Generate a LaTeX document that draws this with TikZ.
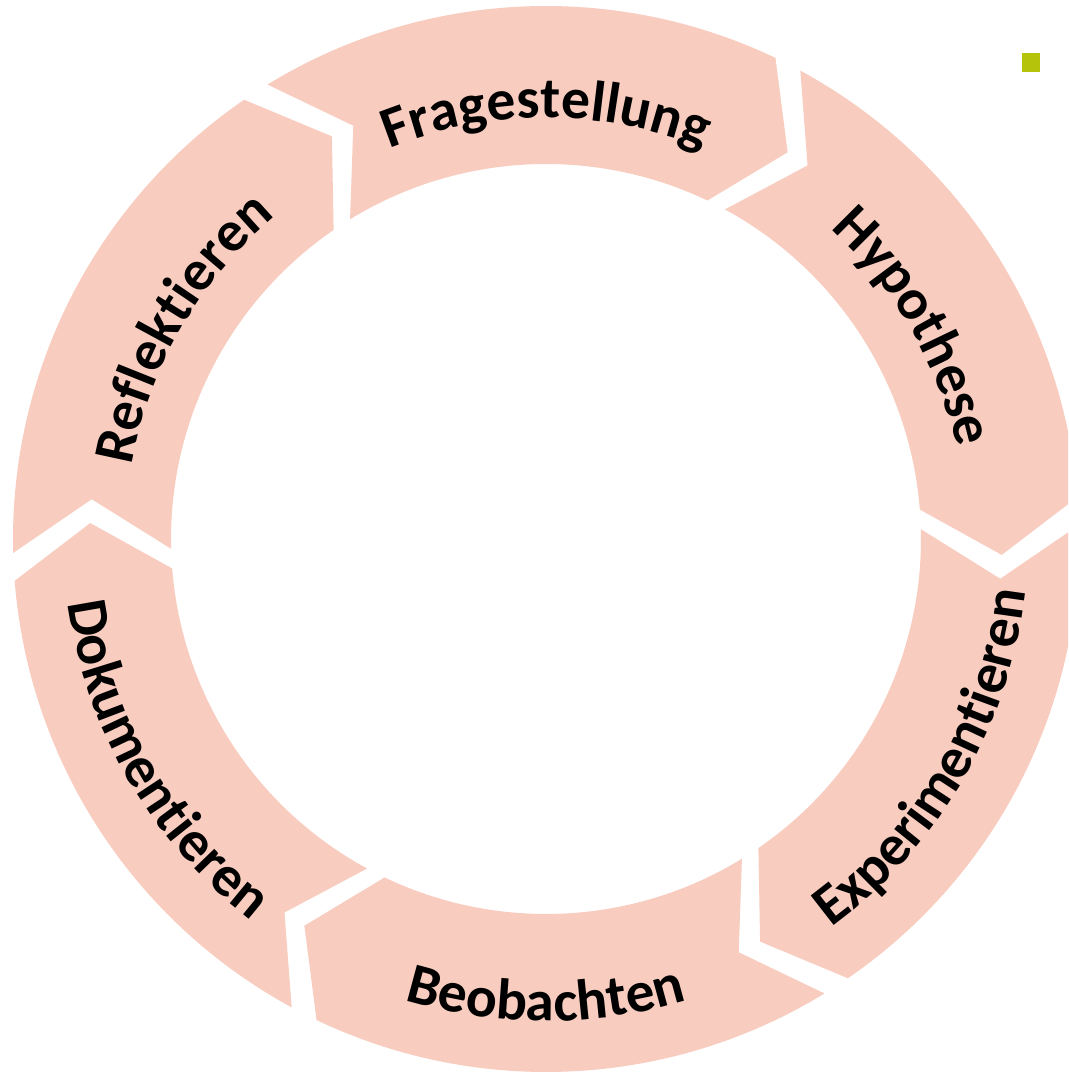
\documentclass[tikz,border=0pt]{standalone}
\usepackage{fontspec}
\setmainfont{Carlito}
\usetikzlibrary{decorations.text}

\definecolor{ringpink}{RGB}{248,205,192}
\definecolor{markgreen}{RGB}{181,196,11}

\begin{document}
\begin{tikzpicture}[
        segment/.style={
            fill=ringpink,
            draw=none
        },
        steplabel/.style={
            decorate,
            decoration={
                text along path,
                text align=center,
                text={|\bfseries\fontsize{16.4}{19}\selectfont|#1}
            }
        }
    ]
        \useasboundingbox (-5.46,-5.33) rectangle (5.22,5.39);
        \clip (-5.46,-5.33) rectangle (5.22,5.39);

        % Ring segments, one per step
        \foreach \c in {90,30,-30,-90,-150,-210} {
            \pgfmathsetmacro{\tail}{\c+31.5}
            \pgfmathsetmacro{\notch}{\c+25}
            \pgfmathsetmacro{\head}{\c-25.5}
            \pgfmathsetmacro{\tip}{\c-32}
            \fill[segment] (\tail:5.33) arc[start angle=\tail, end angle=\head, radius=5.33]
                -- (\tip:4.56) -- (\head:3.75)
                arc[start angle=\head, end angle=\tail, radius=3.75]
                -- (\notch:4.56) -- cycle;
        }

        % Labels on the upper half (read clockwise)
        \path[steplabel=Fragestellung] (130:4.21) arc[start angle=130, end angle=50, radius=4.21];
        \path[steplabel=Hypothese] (70:4.21) arc[start angle=70, end angle=-10, radius=4.21];
        \path[steplabel=Reflektieren] (190:4.21) arc[start angle=190, end angle=110, radius=4.21];

        % Labels on the lower half (read counterclockwise)
        \path[steplabel=Experimentieren] (-70:4.82) arc[start angle=-70, end angle=10, radius=4.82];
        \path[steplabel=Beobachten] (-130:4.82) arc[start angle=-130, end angle=-50, radius=4.82];
        \path[steplabel=Dokumentieren] (-190:4.82) arc[start angle=-190, end angle=-110, radius=4.82];

        % Small marker, top right
        \fill[markgreen] (4.76,4.67) rectangle (4.94,4.86);
    \end{tikzpicture}
\end{document}
